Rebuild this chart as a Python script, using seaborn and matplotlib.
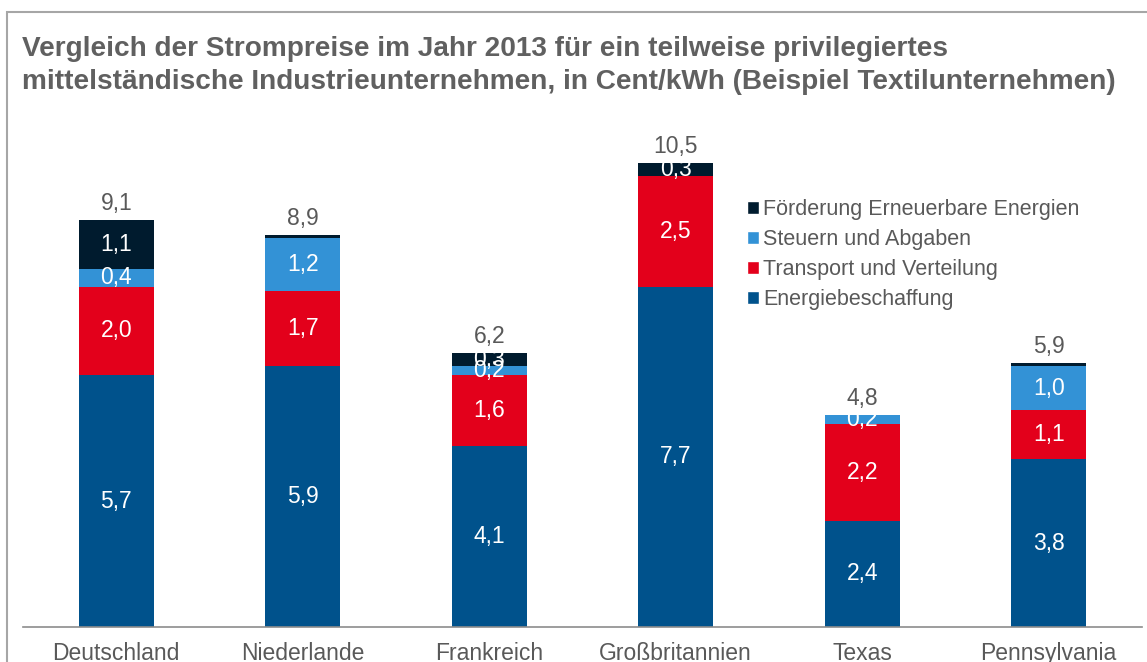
import matplotlib
matplotlib.use("Agg")
import numpy as np
import pandas as pd
import matplotlib.pyplot as plt
from matplotlib.patches import Rectangle, Patch
import seaborn as sns

# Daten (Cent/kWh)
laender = ["Deutschland", "Niederlande", "Frankreich", "Großbritannien", "Texas", "Pennsylvania"]
energiebeschaffung = [5.7, 5.9, 4.1, 7.7, 2.4, 3.8]
transport = [2.0, 1.7, 1.6, 2.5, 2.2, 1.1]
steuern = [0.4, 1.2, 0.2, 0.0, 0.2, 1.0]
foerderung = [1.1, 0.07, 0.3, 0.3, 0.0, 0.07]
gesamt = [9.1, 8.9, 6.2, 10.5, 4.8, 5.9]

reihen = ["Energiebeschaffung", "Transport und Verteilung", "Steuern und Abgaben", "Förderung Erneuerbare Energien"]
farben = ["#00528C", "#E3001B", "#3392D6", "#001B2E"]

df = pd.DataFrame({"land": laender,
                   "Energiebeschaffung": energiebeschaffung,
                   "Transport und Verteilung": transport,
                   "Steuern und Abgaben": steuern,
                   "Förderung Erneuerbare Energien": foerderung})

sns.set_style("white")
plt.rcParams["font.family"] = ["Liberation Sans", "DejaVu Sans"]
grau = "#595959"

fig = plt.figure(figsize=(11.47, 6.62), dpi=100)
ax = fig.add_axes([23 / 1147, 35 / 662, 1119 / 1147, 12 * 44.2 / 662])

unten = np.zeros(len(laender))
for name, farbe in zip(reihen, farben):
    werte = df[name].values
    sns.barplot(data=df, x="land", y=name, order=laender, color=farbe,
                width=0.4, bottom=unten, ax=ax, linewidth=0, saturation=1)
    for i, w in enumerate(werte):
        if w >= 0.15:
            ax.text(i, unten[i] + w / 2, f"{w:.1f}".replace(".", ","),
                    ha="center", va="center", color="white", fontsize=16.5)
    unten = unten + werte

for i, g in enumerate(gesamt):
    ax.annotate(f"{g:.1f}".replace(".", ","), (i, unten[i]), xytext=(0, 5),
                textcoords="offset pixels", ha="center", va="bottom",
                color=grau, fontsize=16.5)

ax.set_xlim(-0.5, len(laender) - 0.5)
ax.set_ylim(0, 12)
ax.set_xlabel("")
ax.set_ylabel("")
ax.set_yticks([])
for s in ["top", "left", "right"]:
    ax.spines[s].set_visible(False)
ax.spines["bottom"].set_color("#8C8C8C")
ax.spines["bottom"].set_linewidth(1.2)
ax.set_xticks(range(len(laender)))
ax.set_xticklabels(laender, fontsize=16.5, color=grau)
ax.tick_params(axis="x", which="major", length=0, pad=11)
ax.set_xticks(np.arange(-0.5, len(laender)), minor=True)
ax.tick_params(axis="x", which="minor", length=5, color="#8C8C8C", width=1.2, direction="out")

handles = [Patch(facecolor=f, label=r) for r, f in zip(reihen[::-1], farben[::-1])]
ax.legend(handles=handles, loc="upper left", bbox_to_anchor=(747 / 1147, 1 - 199 / 662),
          bbox_transform=fig.transFigure, frameon=False, fontsize=15.5,
          labelcolor=grau, handlelength=0.55, handleheight=0.55, handletextpad=0.2,
          labelspacing=0.42, borderaxespad=0, borderpad=0)

fig.text(22 / 1147, 1 - 36 / 662,
         "Vergleich der Strompreise im Jahr 2013 für ein teilweise privilegiertes\n"
         "mittelständische Industrieunternehmen, in Cent/kWh (Beispiel Textilunternehmen)",
         ha="left", va="top", fontsize=20.2, fontweight="bold", color="#606060",
         linespacing=1.36)

fig.add_artist(Rectangle((7 / 1147, -0.1), 1.2, 1.1 - 12 / 662, transform=fig.transFigure,
                         fill=False, edgecolor="#A6A6A6", linewidth=1.5, clip_on=False))

fig.savefig("out.png", dpi=100)
